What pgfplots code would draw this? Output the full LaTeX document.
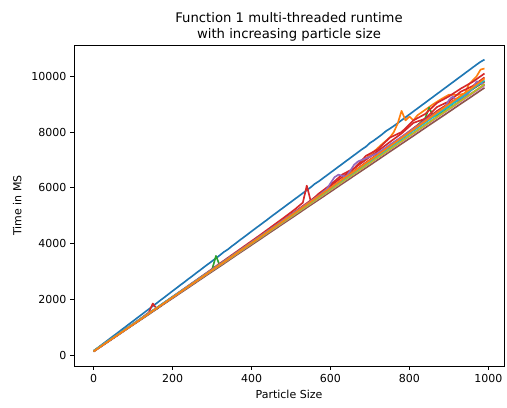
\documentclass[border=0pt]{standalone}
\usepackage{fontspec}
\setmainfont{DejaVu Sans}
\usepackage{pgfplots}
\pgfplotsset{compat=1.18}

\definecolor{tabblue}{RGB}{31,119,180}
\definecolor{taborange}{RGB}{255,127,14}
\definecolor{tabgreen}{RGB}{44,160,44}
\definecolor{tabred}{RGB}{214,39,40}
\definecolor{tabpurple}{RGB}{148,103,189}
\definecolor{tabbrown}{RGB}{140,86,75}
\definecolor{tabpink}{RGB}{227,119,194}
\definecolor{tabgray}{RGB}{127,127,127}
\definecolor{tabolive}{RGB}{188,189,34}
\definecolor{tabcyan}{RGB}{23,190,207}

\begin{document}
\begin{tikzpicture}
\begin{axis}[
  scale only axis,
  width=391pt, height=292pt,
  xmin=-49.5, xmax=1039.5,
  ymin=-394, ymax=11124,
  xtick={0,200,...,1000},
  ytick={0,2000,...,10000},
  scaled ticks=false,
  tick pos=left,
  tick align=outside,
  major tick length=3.5pt,
  every tick/.style={black, line width=0.8pt},
  axis line style={black, line width=0.8pt},
  /pgf/number format/1000 sep={},
  /pgf/number format/assume math mode=true,
  tick label style={font=\fontsize{10}{12}\selectfont},
  label style={font=\fontsize{10}{12}\selectfont},
  xlabel={Particle Size},
  ylabel={Time in MS},
  ylabel style={yshift=2pt},
  title={Function 1 multi-threaded runtime\\with increasing particle size},
  title style={font=\fontsize{12}{14.5}\selectfont, align=center, yshift=-6pt},
  every axis plot/.append style={line width=1.5pt, line join=round, no markers},
]
% blue
\addplot[tabblue] coordinates {
(0,150) (10,255) (20,365) (30,470) (40,578) (50,685) (60,790) (70,900) (80,1005) (90,1115)
(100,1220) (110,1330) (120,1435) (130,1545) (140,1650) (150,1760) (160,1865) (170,1975) (180,2080) (190,2190)
(200,2300) (210,2405) (220,2515) (230,2620) (240,2730) (250,2835) (260,2945) (270,3050) (280,3160) (290,3265)
(300,3370) (310,3475) (320,3585) (330,3700) (340,3790) (350,3905) (360,4010) (370,4120) (380,4225) (390,4330)
(400,4440) (410,4545) (420,4650) (430,4755) (440,4860) (450,4970) (460,5075) (470,5180) (480,5285) (490,5390)
(500,5495) (510,5600) (520,5705) (530,5810) (540,5915) (550,6020) (560,6140) (570,6230) (580,6335) (590,6440)
(600,6545) (610,6650) (620,6755) (630,6860) (640,6965) (650,7070) (660,7175) (670,7280) (680,7385) (690,7480)
(700,7610) (710,7700) (720,7805) (730,7910) (740,8030) (750,8120) (760,8215) (770,8320) (780,8425) (790,8530)
(800,8635) (810,8740) (820,8845) (830,8950) (840,9055) (850,9160) (860,9265) (870,9370) (880,9475) (890,9580)
(900,9685) (910,9790) (920,9895) (930,10000) (940,10105) (950,10210) (960,10315) (970,10420) (980,10520) (990,10600)};
% orange 1
\addplot[taborange] coordinates {
(0,140) (30,430) (60,720) (90,1010) (120,1300) (150,1590) (180,1880) (210,2170) (240,2460) (270,2750)
(300,3045) (330,3335) (360,3625) (390,3920) (420,4210) (450,4500) (480,4800) (510,5090) (540,5390) (570,5690)
(600,5990) (630,6290) (650,6560) (670,6820) (690,7060) (710,7300) (730,7560) (750,7800) (760,7990) (770,8300)
(780,8760) (790,8420) (800,8560) (810,8420) (820,8600) (840,8800) (860,9000) (880,9180) (900,9340) (920,9330)
(940,9380) (950,9700) (970,10000) (980,10240) (990,10280)};
% green
\addplot[tabgreen] coordinates {
(0,140) (30,430) (60,720) (90,1010) (120,1300) (150,1600) (180,1890) (210,2180) (240,2470) (270,2770)
(300,3060) (310,3560) (320,3200) (330,3340) (360,3630) (390,3920) (420,4210) (450,4510) (480,4800) (510,5090)
(540,5390) (570,5690) (600,5990) (630,6290) (660,6590) (690,6890) (720,7190) (750,7500) (780,7800) (810,8110)
(840,8500) (850,8880) (860,8560) (870,8600) (900,8920) (930,9230) (960,9540) (990,9820)};
% red 1
\addplot[tabred] coordinates {
(0,150) (30,440) (60,730) (90,1020) (120,1320) (140,1530) (150,1850) (160,1660) (180,1890) (210,2190)
(240,2490) (270,2790) (300,3090) (330,3390) (360,3690) (390,3990) (420,4290) (450,4600) (480,4910) (510,5230)
(530,5470) (540,6080) (550,5520) (570,5790) (600,6110) (630,6480) (660,6700) (690,7150) (720,7380) (750,7800)
(780,8000) (810,8420) (840,8650) (870,9050) (900,9280) (930,9560) (960,9800) (990,10100)};
% red 2
\addplot[tabred] coordinates {
(0,130) (30,420) (60,710) (90,1000) (120,1290) (150,1585) (180,1875) (210,2170) (240,2460) (270,2755)
(300,3050) (330,3345) (360,3640) (390,3935) (420,4235) (450,4540) (480,4845) (510,5150) (540,5450) (570,5760)
(600,6070) (630,6390) (660,6700) (690,7010) (720,7320) (750,7640) (780,7950) (810,8330) (840,8480) (870,8900)
(900,9100) (930,9450) (960,9650) (990,9960)};
% red 3
\addplot[tabred] coordinates {
(0,140) (30,425) (60,712) (90,1000) (120,1288) (150,1577) (180,1865) (210,2155) (240,2443) (270,2735)
(300,3025) (330,3315) (360,3605) (390,3900) (420,4195) (450,4490) (480,4785) (510,5080) (540,5375) (570,5680)
(600,5980) (630,6290) (660,6600) (690,6910) (720,7210) (750,7530) (780,7820) (810,8140) (840,8440) (870,8760)
(900,9030) (930,9290) (960,9550) (990,9810)};
% purple
\addplot[tabpurple] coordinates {
(0,140) (30,430) (60,725) (90,1015) (120,1310) (150,1600) (180,1895) (210,2190) (240,2480) (270,2775)
(300,3070) (330,3360) (360,3655) (390,3950) (420,4245) (450,4540) (480,4835) (510,5130) (540,5420) (570,5720)
(590,5950) (610,6380) (620,6470) (640,6400) (660,6830) (670,6950) (690,7060) (720,7250) (750,7540) (780,7830)
(810,8120) (840,8420) (870,8710) (890,8900) (900,9150) (910,9280) (920,9100) (940,9260) (960,9560) (970,9820)
(990,9700)};
% brown
\addplot[tabbrown] coordinates {
(0,130) (30,415) (60,700) (90,990) (120,1275) (150,1560) (180,1850) (210,2135) (240,2420) (270,2710)
(300,2995) (330,3280) (360,3570) (390,3855) (420,4140) (450,4430) (480,4715) (510,5000) (540,5290) (570,5575)
(600,5860) (630,6150) (660,6435) (690,6720) (720,7005) (750,7295) (780,7580) (810,7865) (840,8155) (870,8440)
(900,8725) (930,9015) (960,9300) (990,9590)};
% pink
\addplot[tabpink] coordinates {
(0,140) (30,430) (60,720) (90,1010) (120,1300) (150,1590) (180,1880) (210,2165) (240,2455) (270,2745)
(300,3035) (330,3320) (360,3610) (390,3900) (420,4190) (450,4480) (480,4765) (510,5055) (540,5345) (570,5630)
(600,5920) (630,6210) (660,6500) (690,6790) (720,7075) (750,7365) (780,7650) (810,7940) (840,8230) (870,8520)
(900,8810) (930,9095) (960,9385) (990,9670)};
% gray
\addplot[tabgray] coordinates {
(0,135) (30,425) (60,715) (90,1005) (120,1295) (150,1585) (180,1875) (210,2170) (240,2460) (270,2750)
(300,3040) (330,3330) (360,3620) (390,3910) (420,4200) (450,4490) (480,4780) (510,5070) (540,5360) (570,5650)
(600,5940) (630,6230) (660,6520) (690,6810) (720,7100) (750,7390) (780,7680) (810,7970) (840,8260) (870,8550)
(900,8840) (930,9130) (960,9420) (990,9700)};
% olive
\addplot[tabolive] coordinates {
(0,145) (30,435) (60,720) (90,1010) (120,1300) (150,1590) (180,1880) (210,2170) (240,2460) (270,2750)
(300,3040) (330,3325) (360,3615) (390,3905) (420,4195) (450,4485) (480,4775) (510,5060) (540,5350) (570,5640)
(600,5930) (630,6220) (660,6510) (690,6800) (720,7090) (750,7380) (780,7670) (810,7960) (840,8250) (870,8540)
(900,8830) (930,9120) (960,9410) (990,9720)};
% cyan
\addplot[tabcyan] coordinates {
(0,150) (30,440) (60,730) (90,1020) (120,1310) (150,1600) (180,1895) (210,2185) (240,2475) (270,2770)
(300,3060) (330,3350) (360,3645) (390,3935) (420,4225) (450,4520) (480,4810) (510,5100) (540,5395) (570,5690)
(600,5985) (630,6280) (660,6570) (690,6870) (720,7160) (750,7460) (780,7750) (810,8050) (840,8340) (870,8640)
(900,8930) (930,9230) (960,9560) (990,9850)};
% orange 2
\addplot[taborange] coordinates {
(0,135) (30,425) (60,715) (90,1005) (120,1295) (150,1590) (180,1880) (210,2170) (240,2465) (270,2755)
(300,3050) (330,3340) (360,3635) (390,3930) (420,4220) (450,4515) (480,4810) (510,5105) (540,5400) (570,5700)
(600,6000) (630,6300) (660,6590) (690,6890) (720,7190) (750,7490) (780,7790) (810,8090) (840,8390) (870,8700)
(900,9000) (930,9300) (960,9600) (990,9920)};
\end{axis}
\pgfresetboundingbox
\path[use as bounding box] ([shift={(-67.3pt,-37.3pt)}]current axis.south west)
  rectangle ([shift={(2.7pt,40.9pt)}]current axis.north east);
\end{tikzpicture}
\end{document}
